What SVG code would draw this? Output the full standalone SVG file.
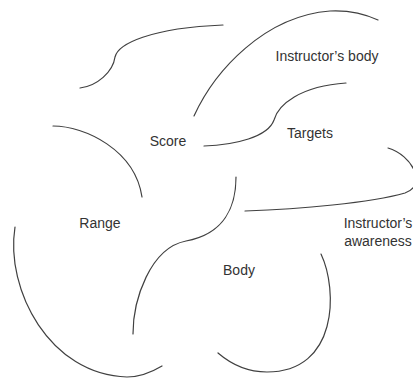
<svg xmlns="http://www.w3.org/2000/svg" width="413" height="379" viewBox="0 0 413 379">
<style>
.c{fill:none;stroke:#404040;stroke-width:1.2;stroke-linecap:round}
.t{font-family:"Liberation Sans",Arial,sans-serif;font-size:14px;fill:#333;text-anchor:middle}
</style>
<rect width="413" height="379" fill="#fff"/>
<g id="connectors">
<path class="c" d="M80,88 C97,86 113,72 115,57 C118,44 150,28 223,25"/>
<path class="c" d="M194,116 C215,70 265,16 330,11 C350,10 365,14 378,20"/>
<path class="c" d="M204,146 C235,145 268,137 274,120 C278,105 300,86 346,83"/>
<path class="c" d="M388,148 C412,155 428,185 405,193 C370,203 300,209 245,211"/>
<path class="c" d="M53,126 C85,126 135,150 142,197"/>
<path class="c" d="M15,227 C5,290 50,375 127,377 C140,377 152,372 162,366"/>
<path class="c" d="M236,177 C236,207 224,234 186,241 C150,248 133,300 133,334"/>
<path class="c" d="M321,254 C338,290 338,372 267,372 C250,372 232,365 218,353"/>
</g>
<g id="instructors-body"><text class="t" x="327" y="61">Instructor’s body</text></g>
<g id="score"><text class="t" x="168" y="146">Score</text></g>
<g id="targets"><text class="t" x="310" y="138">Targets</text></g>
<g id="range"><text class="t" x="100" y="228">Range</text></g>
<g id="instructors-awareness"><text class="t" x="378" y="228">Instructor’s</text><text class="t" x="378" y="246">awareness</text></g>
<g id="body"><text class="t" x="239" y="275">Body</text></g>
</svg>
